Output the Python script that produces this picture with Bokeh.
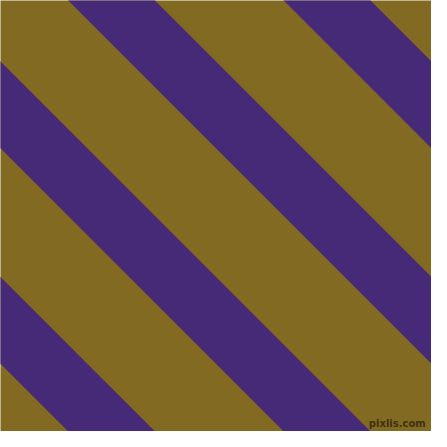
from bokeh.plotting import figure
from bokeh.models import Range1d
from bokeh.embed import file_html
from bokeh.resources import INLINE
from bokeh.core.properties import value

# Stripe data: each purple band covers x - y in [offset, offset + band_width] (image pixel units)
stripe_offsets = [-376.5, -153.0, 70.5, 294.0]
band_width = 89.5
canvas_size = 447
background_color = "#836A22"
stripe_color = "#462A77"
watermark = "pixlis.com"

p = figure(width=431, height=431, output_backend="svg", toolbar_location=None,
           x_range=Range1d(0, canvas_size), y_range=Range1d(canvas_size, 0),
           min_border=0, background_fill_color=background_color,
           border_fill_color=background_color, outline_line_color=None)
p.axis.visible = False
p.grid.visible = False

ext = 1000
xs, ys = [], []
for a in stripe_offsets:
    xs.append([a - ext, a + ext, a + band_width + ext, a + band_width - ext])
    ys.append([-ext, ext, ext, -ext])
p.patches(xs, ys, fill_color=stripe_color, line_color=stripe_color, line_width=0.5)

p.text(x=[441], y=[439], text=[watermark], text_align="right", text_baseline="middle",
       text_font=value("DejaVu Sans"), text_font_size="10px", text_color="#3d3210",
       text_font_style="bold")

open("out.html", "w").write(file_html(p, INLINE))
